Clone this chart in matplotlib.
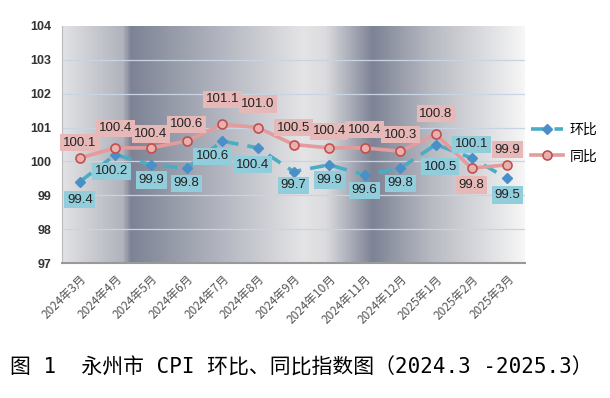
import numpy as np
import matplotlib
matplotlib.use('Agg')
import matplotlib.pyplot as plt
from matplotlib.colors import LinearSegmentedColormap

plt.rcParams['font.family'] = ['Noto Sans CJK SC', 'DejaVu Sans']

months = ['2024年3月', '2024年4月', '2024年5月', '2024年6月', '2024年7月', '2024年8月',
          '2024年9月', '2024年10月', '2024年11月', '2024年12月', '2025年1月', '2025年2月', '2025年3月']
huanbi = [99.4, 100.2, 99.9, 99.8, 100.6, 100.4, 99.7, 99.9, 99.6, 99.8, 100.5, 100.1, 99.5]
tongbi = [100.1, 100.4, 100.4, 100.6, 101.1, 101.0, 100.5, 100.4, 100.4, 100.3, 100.8, 99.8, 99.9]

# label offsets in points (layout only)
hb_off = [-13, -12, -11, -11, -11, -12, -10, -11, -11, -11, -16, 10, -12]
tb_off = [11, 14, 10, 12, 18, 17, 12, 12, 13, 12, 15, -12, 11]
hb_dx = [0, -3, 0, 0, -7, -4, 0, 0, 0, 0, 3, 0, 0]
tb_dx = [0, 0, 0, 0, 0, 0, 0, 0, 0, 0, 0, 0, 0]

blue_line = '#4bacc6'
blue_mark = '#4a90c8'
blue_box = '#92cddc'
red_line = '#e39b9b'
red_edge = '#c0504d'
red_box = '#e6b9b8'

fig = plt.figure(figsize=(6.10, 3.98), dpi=100)
ax = fig.add_axes([62 / 610, 1 - 263 / 398, 463 / 610, 237 / 398])

# background gradient like the excel chart fill
stops = [(0.0, '#e2e2e4'), (0.13, '#b0b3bc'), (0.147, '#7d8395'), (0.52, '#e4e4e6'),
         (0.57, '#dcdcde'), (0.672, '#7d8395'), (0.80, '#b8bac2'), (1.0, '#f6f6f6')]
cmap = LinearSegmentedColormap.from_list('bg', stops)
grad = np.linspace(0, 1, 600).reshape(1, -1)
ax.imshow(grad, cmap=cmap, aspect='auto', extent=[-0.5, 12.5, 97, 104], zorder=0)

x = np.arange(len(months))
ax.set_xlim(-0.5, 12.5)
ax.set_ylim(97, 104)
ax.set_yticks(range(97, 105))
for yv in range(98, 104):
    ax.axhline(yv, color='#c8d4e4', lw=0.9, zorder=1)

ax.plot(x, huanbi, color=blue_line, lw=2.6, ls=(0, (4, 2.5)), marker='D', ms=5,
        mfc=blue_mark, mec=blue_mark, label='环比', zorder=3)
ax.plot(x, tongbi, color=red_line, lw=2.6, marker='o', ms=6.5, mfc='#eab0b0',
        mec=red_edge, mew=1.2, label='同比', zorder=4)

for i in range(len(months)):
    ax.annotate(f'{huanbi[i]:.1f}', (x[i], huanbi[i]), xytext=(hb_dx[i], hb_off[i]),
                textcoords='offset points', ha='center', va='center', fontsize=9.5,
                color='#222222', family=['Liberation Sans'],
                bbox=dict(boxstyle='square,pad=0.2', fc=blue_box, ec='none'), zorder=5)
    ax.annotate(f'{tongbi[i]:.1f}', (x[i], tongbi[i]), xytext=(tb_dx[i], tb_off[i]),
                textcoords='offset points', ha='center', va='center', fontsize=9.5,
                color='#222222', family=['Liberation Sans'],
                bbox=dict(boxstyle='square,pad=0.2', fc=red_box, ec='none'), zorder=5)

ax.set_xticks(x)
ax.set_xticklabels(months, rotation=45, ha='right', rotation_mode='anchor',
                   fontsize=8.5, color='#555555')
ax.tick_params(axis='x', length=0, pad=7)
ax.tick_params(axis='y', length=0, pad=8, labelsize=9, labelcolor='#333333')
for lab in ax.get_yticklabels():
    lab.set_family(['Liberation Sans'])
    lab.set_fontweight('bold')
for s in ['top', 'right']:
    ax.spines[s].set_visible(False)
ax.spines['left'].set_color('#bbbbbb')
ax.spines['bottom'].set_color('#999999')
ax.spines['bottom'].set_linewidth(1.5)

leg = fig.legend(loc='center left', bbox_to_anchor=(531 / 610, 1 - 143 / 398),
                 frameon=False, fontsize=10, handlelength=2.3, labelspacing=0.9,
                 borderaxespad=0, borderpad=0, handletextpad=0.5)

fig.text(10 / 610, 1 - 368 / 398, '图 1  永州市 CPI 环比、同比指数图（2024.3 -2025.3）',
         fontsize=15, ha='left', va='center', color='black',
         family=['DejaVu Sans Mono', 'Noto Sans CJK SC'])

fig.savefig('out.png', dpi=100)
